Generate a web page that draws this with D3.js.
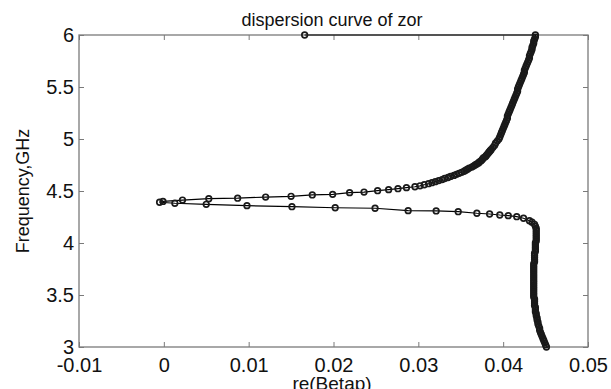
<!DOCTYPE html>
<html>
<head>
<meta charset="utf-8">
<script src="https://cdn.jsdelivr.net/npm/d3@7"></script>
<style>
  body { margin: 0; background: #fff; }
  text { font-family: "Liberation Sans", Arial, sans-serif; fill: #111; }
</style>
</head>
<body>
<div id="chart"></div>
<script>
// axis ticks
const xTicks = [-0.01, 0, 0.01, 0.02, 0.03, 0.04, 0.05];
const xTickLabels = ["-0.01", "0", "0.01", "0.02", "0.03", "0.04", "0.05"];
const yTicks = [3, 3.5, 4, 4.5, 5, 5.5, 6];
const yTickLabels = ["3", "3.5", "4", "4.5", "5", "5.5", "6"];

// lower branch: from 3 GHz up to the turning point near beta = 0
const lowerFreq = [
  3.00, 3.02, 3.04, 3.06, 3.08, 3.10, 3.12, 3.14, 3.16, 3.18,
  3.20, 3.22, 3.24, 3.26, 3.28, 3.30, 3.32, 3.34, 3.36, 3.38,
  3.40, 3.42, 3.44, 3.46, 3.48, 3.50, 3.52, 3.54, 3.56, 3.58,
  3.60, 3.62, 3.64, 3.66, 3.68, 3.70, 3.72, 3.74, 3.76, 3.78,
  3.80, 3.82, 3.84, 3.86, 3.88, 3.90, 3.92, 3.94, 3.96, 3.98,
  4.00, 4.02, 4.04, 4.06, 4.08, 4.10, 4.12, 4.14, 4.16, 4.18,
  4.20, 4.214, 4.238, 4.253, 4.263, 4.269, 4.279, 4.286, 4.301, 4.308,
  4.311, 4.334, 4.339, 4.349, 4.359, 4.372, 4.382, 4.392
];
const lowerBeta = [
  0.0451, 0.0450, 0.0449, 0.0448, 0.0447, 0.0446, 0.0445, 0.0444, 0.0443, 0.0443,
  0.0442, 0.0441, 0.0441, 0.0440, 0.0440, 0.0439, 0.0439, 0.0438, 0.0438, 0.0438,
  0.0437, 0.0437, 0.0437, 0.0437, 0.0436, 0.0436, 0.0436, 0.0436, 0.0436, 0.0436,
  0.0436, 0.0436, 0.0436, 0.0436, 0.0436, 0.0436, 0.0436, 0.0436, 0.0436, 0.0436,
  0.0436, 0.0437, 0.0437, 0.0437, 0.0437, 0.0437, 0.0438, 0.0438, 0.0438, 0.0438,
  0.0438, 0.0439, 0.0439, 0.0439, 0.0439, 0.0439, 0.0439, 0.0439, 0.0438, 0.0437,
  0.0434, 0.0431, 0.0424, 0.0416, 0.0406, 0.0396, 0.0384, 0.0369, 0.0347, 0.0321,
  0.0288, 0.0249, 0.0202, 0.0151, 0.0098, 0.0050, 0.0013, -0.0005
];

// upper branch: from the turning point up to 6 GHz
const upperFreq = [
  4.400, 4.413, 4.426, 4.431, 4.442, 4.449, 4.462, 4.468, 4.484, 4.490,
  4.503, 4.513, 4.522, 4.532, 4.541, 4.55,
  4.56, 4.57, 4.58, 4.59, 4.60, 4.61, 4.62, 4.63, 4.64, 4.65,
  4.66, 4.67, 4.68, 4.69, 4.70, 4.71, 4.72, 4.73, 4.74, 4.75,
  4.76, 4.77, 4.78, 4.79, 4.80, 4.81, 4.82, 4.83, 4.84, 4.85,
  4.86, 4.87, 4.88, 4.89, 4.90, 4.92, 4.94,
  4.96, 4.98, 5.00, 5.02, 5.04, 5.06, 5.08, 5.10, 5.12, 5.14,
  5.16, 5.18, 5.20, 5.22, 5.24, 5.26, 5.28, 5.30, 5.32, 5.34,
  5.36, 5.38, 5.40, 5.42, 5.44, 5.46, 5.48, 5.50, 5.52, 5.54,
  5.56, 5.58, 5.60, 5.62, 5.64, 5.66, 5.68, 5.70, 5.72, 5.74,
  5.76, 5.78, 5.80, 5.82, 5.84, 5.86, 5.88, 5.90, 5.92, 5.94,
  5.96, 5.98, 6.00
];
const upperBeta = [
  -0.0001, 0.0022, 0.0053, 0.0087, 0.0120, 0.0150, 0.0175, 0.0199, 0.0219, 0.0236,
  0.0252, 0.0265, 0.0276, 0.0286, 0.0296, 0.0302,
  0.0307, 0.0312, 0.0316, 0.0320, 0.0324, 0.0328, 0.0331, 0.0335, 0.0338, 0.0342,
  0.0345, 0.0348, 0.0351, 0.0354, 0.0356, 0.0358, 0.0360, 0.0363, 0.0365, 0.0367,
  0.0369, 0.0371, 0.0372, 0.0374, 0.0375, 0.0376, 0.0377, 0.0379, 0.0380, 0.0381,
  0.0382, 0.0383, 0.0384, 0.0385, 0.0386, 0.0388, 0.0390,
  0.0391, 0.0393, 0.0395, 0.0396, 0.0397, 0.0398, 0.0399, 0.0400, 0.0401, 0.0402,
  0.0403, 0.0404, 0.0405, 0.0405, 0.0406, 0.0407, 0.0408, 0.0409, 0.0410, 0.0411,
  0.0412, 0.0413, 0.0414, 0.0415, 0.0416, 0.0417, 0.0417, 0.0418, 0.0419, 0.0420,
  0.0421, 0.0422, 0.0423, 0.0424, 0.0425, 0.0425, 0.0426, 0.0427, 0.0428, 0.0429,
  0.0430, 0.0431, 0.0431, 0.0432, 0.0433, 0.0434, 0.0434, 0.0435, 0.0436, 0.0436,
  0.0437, 0.0438, 0.0438
];

// last stray point joined to the top of the curve
const endFreq = [6.00];
const endBeta = [0.0166];

const width = 611;
const height = 389;
const margin = { top: 35, right: 23, bottom: 42, left: 79 };

const svg = d3.select("#chart").append("svg")
  .attr("width", width)
  .attr("height", height);

const x = d3.scaleLinear()
  .domain([-0.01, 0.05])
  .range([margin.left, width - margin.right]);

const y = d3.scaleLinear()
  .domain([3, 6])
  .range([height - margin.bottom, margin.top]);

const points = [];
lowerFreq.forEach((f, i) => points.push({ f: f, b: lowerBeta[i] }));
upperFreq.forEach((f, i) => points.push({ f: f, b: upperBeta[i] }));
endFreq.forEach((f, i) => points.push({ f: f, b: endBeta[i] }));

// axes box
const axisColor = "#7a7a7a";
svg.append("rect")
  .attr("x", x(-0.01))
  .attr("y", y(6))
  .attr("width", x(0.05) - x(-0.01))
  .attr("height", y(3) - y(6))
  .attr("fill", "none")
  .attr("stroke", axisColor)
  .attr("stroke-width", 1.3);

const xAxis = svg.append("g")
  .attr("transform", `translate(0,${y(3)})`)
  .call(d3.axisBottom(x).tickValues(xTicks)
    .tickFormat((d, i) => xTickLabels[i])
    .tickSize(-5).tickPadding(11));

const xAxisTop = svg.append("g")
  .attr("transform", `translate(0,${y(6)})`)
  .call(d3.axisTop(x).tickValues(xTicks).tickFormat("").tickSize(-5));

const yAxis = svg.append("g")
  .attr("transform", `translate(${x(-0.01)},0)`)
  .call(d3.axisLeft(y).tickValues(yTicks)
    .tickFormat((d, i) => yTickLabels[i])
    .tickSize(-5).tickPadding(5));

const yAxisRight = svg.append("g")
  .attr("transform", `translate(${x(0.05)},0)`)
  .call(d3.axisRight(y).tickValues(yTicks).tickFormat("").tickSize(-5));

[xAxis, xAxisTop, yAxis, yAxisRight].forEach(g => {
  g.select(".domain").remove();
  g.selectAll(".tick line").attr("stroke", axisColor);
  g.selectAll(".tick text")
    .attr("font-size", 20)
    .attr("font-family", "'Liberation Sans', Arial, sans-serif")
    .attr("fill", "#111");
});

// curve
const line = d3.line()
  .x(d => x(d.b))
  .y(d => y(d.f));

svg.append("path")
  .datum(points)
  .attr("fill", "none")
  .attr("stroke", "#000")
  .attr("stroke-width", 1.2)
  .attr("d", line);

svg.append("g")
  .selectAll("circle")
  .data(points)
  .enter().append("circle")
  .attr("cx", d => x(d.b))
  .attr("cy", d => y(d.f))
  .attr("r", 2.8)
  .attr("fill", "none")
  .attr("stroke", "#1a1a1a")
  .attr("stroke-width", 1.7);

// labels
svg.append("text")
  .attr("x", 332)
  .attr("y", 26)
  .attr("text-anchor", "middle")
  .attr("font-size", 18)
  .text("dispersion curve of zor");

svg.append("text")
  .attr("x", 332)
  .attr("y", 390)
  .attr("text-anchor", "middle")
  .attr("font-size", 19)
  .text("re(Betap)");

svg.append("text")
  .attr("transform", `translate(29,${(y(3) + y(6)) / 2}) rotate(-90)`)
  .attr("text-anchor", "middle")
  .attr("font-size", 18)
  .text("Frequency,GHz");
</script>
</body>
</html>
